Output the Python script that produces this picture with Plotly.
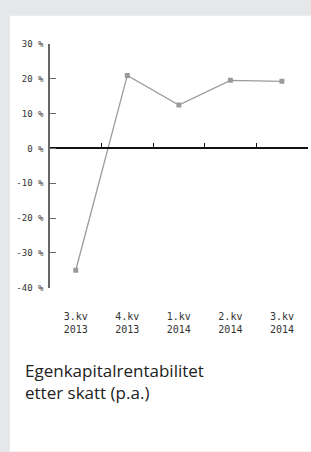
import plotly.graph_objects as go

categories = ["3.kv<br>2013", "4.kv<br>2013", "1.kv<br>2014", "2.kv<br>2014", "3.kv<br>2014"]
values = [-35, 21, 12.5, 19.6, 19.3]
ytick_vals = [30, 20, 10, 0, -10, -20, -30, -40]
ytick_text = ["30 %", "20 %", "10 %", "0 %", "-10 %", "-20 %", "-30 %", "-40 %"]
title_text = "Egenkapitalrentabilitet<br>etter skatt (p.a.)"

W, H = 311, 452
def fy(px):
    return (H - px) / H
def fx(px):
    return px / W

fig = go.Figure()
fig.add_trace(go.Scatter(
    x=list(range(len(categories))), y=values, mode="lines+markers",
    line=dict(color="#9b9b9b", width=1.3),
    marker=dict(symbol="square", size=5, color="#9b9b9b"),
    hoverinfo="skip", showlegend=False,
))
# invisible trace to keep xaxis2 alive
fig.add_trace(go.Scatter(x=[-0.5, 4.5], y=[0, 0], xaxis="x2", mode="lines",
                         line=dict(width=0), hoverinfo="skip", showlegend=False))

mono = "DejaVu Sans Mono"
fig.update_layout(
    width=W, height=H,
    margin=dict(l=0, r=0, t=0, b=0),
    paper_bgcolor="#e6e7e8",
    plot_bgcolor="rgba(0,0,0,0)",
    shapes=[dict(type="rect", xref="paper", yref="paper", x0=fx(10), x1=1.01,
                 y0=-0.01, y1=fy(11), fillcolor="white", line=dict(width=0), layer="below")],
    xaxis=dict(
        domain=[fx(50), fx(307.7)], range=[-0.5, 4.5],
        tickvals=list(range(len(categories))), ticktext=categories,
        showline=False, showgrid=False, zeroline=False, ticks="",
        tickfont=dict(family=mono, size=10, color="#333"),
        ticklabelstandoff=21,
    ),
    xaxis2=dict(
        overlaying="x", anchor="free", position=fy(146.5),
        domain=[fx(50), fx(307.7)], range=[-0.5, 4.5],
        tickvals=[-0.5, 0.5, 1.5, 2.5, 3.5, 4.5],
        showticklabels=False, showgrid=False, zeroline=False,
        showline=True, linecolor="#111", linewidth=1.5,
        ticks="inside", ticklen=5, tickcolor="#111", tickwidth=1.2,
    ),
    yaxis=dict(
        domain=[fy(289), fy(40)], range=[-40, 30],
        tickvals=ytick_vals, ticktext=ytick_text,
        showgrid=False, zeroline=False,
        showline=True, linecolor="#666", linewidth=1.5,
        ticks="inside", ticklen=6, tickcolor="#666", tickwidth=1.2,
        tickfont=dict(family=mono, size=9, color="#333"),
        ticklabelstandoff=3,
    ),
    annotations=[dict(
        text=title_text, xref="paper", yref="paper", x=fx(23), y=fy(360),
        xanchor="left", yanchor="top", align="left", showarrow=False,
        font=dict(family="Open Sans", size=17, color="#222"),
    )],
)

fig.write_html("out.html", config={"displayModeBar": False},
               post_script="document.body.style.margin='0';document.body.style.overflow='hidden';")
